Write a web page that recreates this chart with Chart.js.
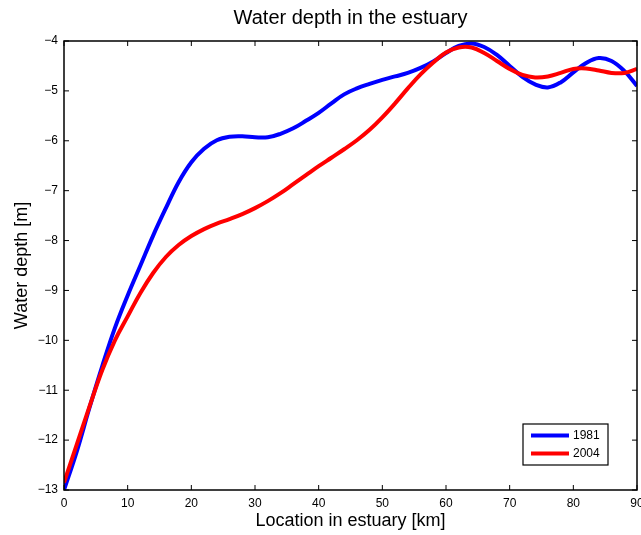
<!DOCTYPE html>
<html lang="en">

<head>
    <meta charset="UTF-8">
    <title>Water depth in the estuary</title>
    <style>
        body {
            margin: 0;
            background-color: #fff;
        }

        .chart-container {
            width: 641px;
            height: 535px;
        }
    </style>
</head>

<body>

    <div class="chart-container">
        <canvas id="depthChart"></canvas>
    </div>

    <script src="https://cdn.jsdelivr.net/npm/chart.js"></script>
    <script>
        // Location along the estuary [km]
        const locationKm = [0, 2, 4, 6, 8, 10, 12, 14, 16, 18, 20, 22, 24, 26, 28, 30, 32, 34, 36, 38, 40, 42, 44,
            46, 48, 50, 52, 54, 56, 58, 60, 62, 64, 66, 68, 70, 72, 74, 76, 78, 80, 82, 84, 86, 88, 90];

        // Water depth [m]
        const depth1981 = [-13.0, -12.23, -11.35, -10.52, -9.75, -9.1, -8.5, -7.9, -7.35, -6.83, -6.43, -6.16, -5.99,
            -5.92, -5.91, -5.93, -5.93, -5.86, -5.75, -5.6, -5.44, -5.25, -5.07, -4.95, -4.86, -4.78, -4.71, -4.64,
            -4.54, -4.41, -4.24, -4.1, -4.05, -4.12, -4.28, -4.5, -4.72, -4.87, -4.93, -4.83, -4.63, -4.44, -4.34,
            -4.4, -4.6, -4.9];
        const depth2004 = [-12.85, -12.09, -11.33, -10.6, -10.0, -9.52, -9.05, -8.65, -8.33, -8.09, -7.91, -7.77, -7.66,
            -7.57, -7.47, -7.35, -7.21, -7.05, -6.87, -6.69, -6.51, -6.34, -6.17, -5.99, -5.78, -5.53, -5.25, -4.95,
            -4.67, -4.43, -4.23, -4.13, -4.13, -4.24, -4.4, -4.56, -4.68, -4.73, -4.71, -4.64, -4.56, -4.55, -4.59,
            -4.64, -4.64, -4.56];

        const seriesLabels = ['1981', '2004'];
        const xTicks = [0, 10, 20, 30, 40, 50, 60, 70, 80, 90];
        const yTicks = [-13, -12, -11, -10, -9, -8, -7, -6, -5, -4];

        const fontFamily = "'Liberation Sans', Arial, Helvetica, sans-serif";

        function toPoints(values) {
            return values.map((v, i) => ({ x: locationKm[i], y: v }));
        }

        function minusSign(v) {
            return String(v).replace('-', '\u2212');
        }

        // Title over the plot area, box with inward ticks, legend inside the axes
        const matlabLook = {
            id: 'matlabLook',
            afterDraw(chart) {
                const ctx = chart.ctx;
                const area = chart.chartArea;
                const xs = chart.scales.x;
                const ys = chart.scales.y;
                const tick = 5;

                ctx.save();
                ctx.fillStyle = '#000';
                ctx.font = '20px ' + fontFamily;
                ctx.textAlign = 'center';
                ctx.textBaseline = 'middle';
                ctx.fillText('Water depth in the estuary', (area.left + area.right) / 2, 18);

                ctx.strokeStyle = '#000';
                ctx.lineWidth = 1;
                ctx.beginPath();
                xTicks.forEach(v => {
                    const px = xs.getPixelForValue(v);
                    ctx.moveTo(px, area.bottom);
                    ctx.lineTo(px, area.bottom - tick);
                    ctx.moveTo(px, area.top);
                    ctx.lineTo(px, area.top + tick);
                });
                yTicks.forEach(v => {
                    const py = ys.getPixelForValue(v);
                    ctx.moveTo(area.left, py);
                    ctx.lineTo(area.left + tick, py);
                    ctx.moveTo(area.right, py);
                    ctx.lineTo(area.right - tick, py);
                });
                ctx.stroke();

                ctx.lineWidth = 1.5;
                ctx.strokeRect(area.left, area.top, area.right - area.left, area.bottom - area.top);

                // legend
                const w = 85, h = 41;
                const lx = area.right - 29 - w;
                const ly = area.bottom - 25 - h;
                ctx.fillStyle = '#fff';
                ctx.fillRect(lx, ly, w, h);
                ctx.lineWidth = 1.2;
                ctx.strokeRect(lx, ly, w, h);
                ctx.font = '12px ' + fontFamily;
                ctx.textAlign = 'left';
                chart.data.datasets.forEach((ds, i) => {
                    const cy = ly + 11.5 + i * 18;
                    ctx.strokeStyle = ds.borderColor;
                    ctx.lineWidth = 4;
                    ctx.beginPath();
                    ctx.moveTo(lx + 8, cy);
                    ctx.lineTo(lx + 46, cy);
                    ctx.stroke();
                    ctx.fillStyle = '#000';
                    ctx.fillText(ds.label, lx + 50, cy + 0.5);
                });
                ctx.restore();
            }
        };

        new Chart(document.getElementById('depthChart'), {
            type: 'line',
            data: {
                datasets: [{
                    label: seriesLabels[0],
                    data: toPoints(depth1981),
                    borderColor: '#0000ff',
                    borderWidth: 4,
                    order: 1
                }, {
                    label: seriesLabels[1],
                    data: toPoints(depth2004),
                    borderColor: '#ff0000',
                    borderWidth: 4,
                    order: 0
                }]
            },
            options: {
                responsive: true,
                maintainAspectRatio: false,
                animation: false,
                layout: { padding: { top: 41, right: 4, bottom: 0, left: 0 } },
                elements: {
                    point: { radius: 0 },
                    line: { tension: 0.4, fill: false }
                },
                plugins: {
                    legend: { display: false },
                    title: { display: false },
                    tooltip: { enabled: false }
                },
                scales: {
                    x: {
                        type: 'linear',
                        min: 0,
                        max: 90,
                        grid: { display: false, drawTicks: false },
                        border: { display: false },
                        afterBuildTicks: scale => { scale.ticks = xTicks.map(v => ({ value: v })); },
                        afterFit: scale => {
                            scale.height = 45;
                            scale.paddingLeft = 0;
                            scale.paddingRight = 0;
                        },
                        ticks: {
                            color: '#000',
                            padding: 6,
                            maxRotation: 0,
                            font: { family: fontFamily, size: 12 }
                        },
                        title: {
                            display: true,
                            text: 'Location in estuary [km]',
                            color: '#000',
                            padding: { top: 0, bottom: 3 },
                            font: { family: fontFamily, size: 18 }
                        }
                    },
                    y: {
                        type: 'linear',
                        min: -13,
                        max: -4,
                        grid: { display: false, drawTicks: false },
                        border: { display: false },
                        afterBuildTicks: scale => { scale.ticks = yTicks.map(v => ({ value: v })); },
                        afterFit: scale => {
                            scale.width = 64;
                            scale.paddingTop = 0;
                            scale.paddingBottom = 0;
                        },
                        ticks: {
                            color: '#000',
                            padding: 6,
                            font: { family: fontFamily, size: 12 },
                            callback: v => minusSign(v)
                        },
                        title: {
                            display: true,
                            text: 'Water depth [m]',
                            color: '#000',
                            padding: { top: 11, bottom: 0 },
                            font: { family: fontFamily, size: 18 }
                        }
                    }
                }
            },
            plugins: [matlabLook]
        });
    </script>
</body>

</html>
